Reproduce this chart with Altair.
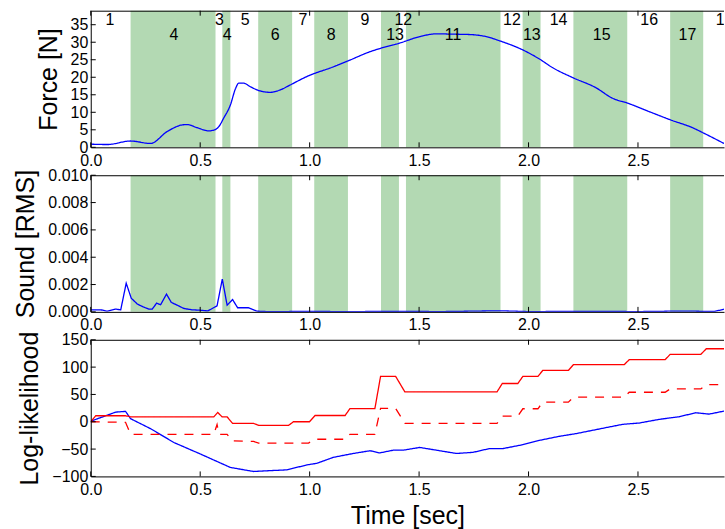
import altair as alt
import pandas as pd

# ---------------- data ----------------
XMAX = 2.893
x_ticks = [0.0, 0.5, 1.0, 1.5, 2.0, 2.5]

span_start = [0.182, 0.601, 0.765, 1.021, 1.326, 1.440, 1.973, 2.205, 2.647]
span_end = [0.570, 0.638, 0.920, 1.175, 1.408, 1.872, 2.055, 2.451, 2.798]

row1_t = [0.088, 0.588, 0.706, 0.969, 1.253, 1.428, 1.924, 2.137, 2.551, 2.896]
row1_lab = ["1", "3", "5", "7", "9", "12", "12", "14", "16", "18"]
row2_t = [0.380, 0.623, 0.843, 1.098, 1.390, 1.655, 2.015, 2.334, 2.726]
row2_lab = ["4", "4", "6", "8", "13", "11", "13", "15", "17"]

force_t = [0.0, 0.076, 0.182, 0.273, 0.349, 0.418, 0.44, 0.486, 0.539, 0.562, 0.585,
           0.607, 0.638, 0.661, 0.676, 0.699, 0.729, 0.774, 0.82, 0.866, 0.911, 0.987,
           1.109, 1.184, 1.276, 1.326, 1.408, 1.503, 1.579, 1.655, 1.73, 1.807, 1.868,
           1.974, 2.05, 2.111, 2.202, 2.308, 2.384, 2.453, 2.551, 2.65, 2.749, 2.802, 2.893]
force_v = [0.9, 0.8, 1.8, 1.1, 4.5, 6.4, 6.5, 5.6, 4.7, 4.9, 5.9,
           8.3, 12.1, 16.7, 18.3, 18.3, 17.3, 16.1, 15.7, 16.4, 17.8, 20.2,
           23.0, 24.9, 27.3, 28.3, 29.7, 31.6, 32.4, 32.3, 32.2, 31.6, 30.4,
           27.8, 25.2, 22.7, 19.9, 17.0, 14.0, 12.6, 10.2, 7.8, 5.6, 4.0, 1.1]

sound_t = [0.0, 0.046, 0.076, 0.114, 0.137, 0.162, 0.185, 0.213, 0.243, 0.266, 0.281,
           0.301, 0.319, 0.346, 0.368, 0.395, 0.425, 0.463, 0.501, 0.535, 0.577, 0.601,
           0.623, 0.648, 0.671, 0.721, 0.759, 0.805, 1.0, 1.2, 1.4, 1.6, 1.87, 2.0,
           2.3, 2.5, 2.7, 2.85, 2.893]
sound_v = [0.00015, 0.00015, 0.00005, 0.0002, 0.00015, 0.0021, 0.001, 0.00057, 0.00034,
           0.0002, 0.0002, 0.00064, 0.00052, 0.0013, 0.00069, 0.00049, 0.00025, 0.00015,
           0.00012, 0.00007, 0.00044, 0.0024, 0.00049, 0.0009, 0.0003, 0.0003, 0.00005,
           0.00002, 0.00003, 0.00002, 0.00004, 0.00002, 0.00008, 0.00002, 0.00004,
           0.00002, 0.00006, 0.00003, 0.0002]

red_t = [0.0, 0.023, 0.159, 0.182, 0.562, 0.58, 0.6, 0.623, 0.648, 0.744, 0.767, 0.904,
         0.926, 0.999, 1.025, 1.162, 1.184, 1.298, 1.324, 1.393, 1.435, 1.856, 1.880,
         1.951, 1.974, 2.043, 2.065, 2.182, 2.205, 2.437, 2.460, 2.624, 2.647, 2.787,
         2.812, 2.893]
red_v = [0, 11, 11, 9, 9, 17, 9, 9, -3, -3, -6.5, -6.5, 0, 0, 11.5, 11.5, 24, 24, 83,
         83, 54.7, 54.7, 70, 70, 83, 83, 94, 94, 104.5, 104.5, 113.6, 113.6, 123.3,
         123.3, 133.6, 133.6]

dash_t = [0.0, 0.159, 0.182, 0.562, 0.577, 0.586, 0.623, 0.645, 0.744, 0.767, 0.995,
          1.025, 1.162, 1.184, 1.298, 1.324, 1.393, 1.435, 1.856, 1.880, 1.951, 1.974,
          2.043, 2.065, 2.182, 2.205, 2.437, 2.460, 2.624, 2.647, 2.787, 2.812, 2.893]
dash_v = [0, -1, -23, -23, -5, -23, -23, -35, -36, -39, -39, -32, -32, -23, -23, 24.4,
          24.4, -3, -3, 10.4, 10.4, 23.8, 23.8, 36, 36, 45, 45, 54, 54, 60, 60, 68, 68]

blue_t = [0.0, 0.114, 0.159, 0.182, 0.273, 0.38, 0.501, 0.562, 0.638, 0.744, 0.805,
          0.896, 0.987, 1.033, 1.109, 1.2, 1.276, 1.32, 1.382, 1.427, 1.503, 1.579,
          1.670, 1.746, 1.822, 1.883, 1.974, 2.050, 2.141, 2.217, 2.338, 2.430, 2.506,
          2.597, 2.688, 2.764, 2.825, 2.893]
blue_v = [1, 17.7, 19, 5.6, -12.6, -38, -59, -70, -83.6, -91, -89.7, -88, -79, -76,
          -65, -58, -53, -57, -52, -52, -47, -52, -58, -56, -49, -49, -42, -34, -26.6,
          -21.7, -12, -4.7, -2.3, 4.4, 9.2, 16.5, 14, 19.5]

force_ticks = [0, 5, 10, 15, 20, 25, 30, 35]
sound_ticks = [0.0, 0.002, 0.004, 0.006, 0.008, 0.010]
ll_ticks = [-100, -50, 0, 50, 100, 150]

# ---------------- styling ----------------
W = 635
H = 137
FONT = "Liberation Sans"
GREEN = "#b3d9b3"
BLUE = "#0000ff"
RED = "#ff0000"
TICK = 5

xscale = alt.Scale(domain=[0, XMAX], nice=False, zero=False)


def xaxis(title):
    if title:
        return alt.Axis(values=x_ticks, format=".1f", labelPadding=5, labelFlush=False,
                        title=title, titlePadding=6, zindex=1)
    return alt.Axis(values=x_ticks, format=".1f", labelPadding=5, labelFlush=False,
                    title=None, zindex=1)


spans = pd.DataFrame({"start": span_start, "end": span_end})
xt = pd.DataFrame({"t": x_ticks})
one = pd.DataFrame({"a": [0]})


def panel(lines, ydom, yticks, yfmt, ytitle, xtitle=None, labels=False, shade=True):
    ax = xaxis(xtitle)
    ys = alt.Scale(domain=ydom, nice=False, zero=False)
    ya = alt.Axis(values=yticks, format=yfmt, labelPadding=3, labelFlush=False,
                  title=ytitle, titlePadding=9, zindex=1)
    layers = []
    if shade:
        layers.append(
            alt.Chart(spans).mark_rect(color=GREEN, opacity=1).encode(
                x=alt.X("start:Q", scale=xscale, axis=ax), x2="end:Q",
                y=alt.value(0), y2=alt.value(H))
        )
    for df, color, dash in lines:
        m = alt.Chart(df).mark_line(color=color, strokeWidth=1.3, clip=True,
                                    strokeDash=dash if dash else [1, 0],
                                    interpolate=df.attrs.get("interp", "linear"))
        layers.append(m.encode(x=alt.X("t:Q", scale=xscale, axis=ax),
                               y=alt.Y("v:Q", scale=ys, axis=ya)))
    if labels:
        for tt, lab, ypix in [(row1_t, row1_lab, 9.5), (row2_t, row2_lab, 24)]:
            ldf = pd.DataFrame({"t": tt, "lab": lab})
            layers.append(
                alt.Chart(ldf).mark_text(font=FONT, fontSize=16, color="black",
                                         clip=True, align="center",
                                         baseline="middle").encode(
                    x=alt.X("t:Q", scale=xscale, axis=ax), y=alt.value(ypix),
                    text="lab:N")
            )
    # inward ticks (bottom, top, left)
    layers.append(alt.Chart(xt).mark_rule(color="black", strokeWidth=1).encode(
        x=alt.X("t:Q", scale=xscale, axis=ax), y=alt.value(H - TICK), y2=alt.value(H)))
    layers.append(alt.Chart(xt).mark_rule(color="black", strokeWidth=1).encode(
        x=alt.X("t:Q", scale=xscale, axis=ax), y=alt.value(0), y2=alt.value(TICK)))
    yt = pd.DataFrame({"v": yticks})
    layers.append(alt.Chart(yt).mark_rule(color="black", strokeWidth=1).encode(
        y=alt.Y("v:Q", scale=ys, axis=ya), x=alt.value(0), x2=alt.value(TICK)))
    # top spine
    layers.append(alt.Chart(one).mark_rule(color="black", strokeWidth=1).encode(
        x=alt.value(0), x2=alt.value(W), y=alt.value(0.5)))
    return alt.layer(*layers).properties(width=W, height=H)


force_df = pd.DataFrame({"t": force_t, "v": force_v})
force_df.attrs["interp"] = "monotone"
sound_df = pd.DataFrame({"t": sound_t, "v": sound_v})
red_df = pd.DataFrame({"t": red_t, "v": red_v})
dash_df = pd.DataFrame({"t": dash_t, "v": dash_v})
blue_df = pd.DataFrame({"t": blue_t, "v": blue_v})

p1 = panel([(force_df, BLUE, None)], [0, 39], force_ticks, "d", "Force [N]", labels=True)
p2 = panel([(sound_df, BLUE, None)], [0, 0.010], sound_ticks, ".3f", "Sound [RMS]")
p3 = panel([(blue_df, BLUE, None), (red_df, RED, None), (dash_df, RED, [9, 8])],
           [-100, 150], ll_ticks, "d", "Log-likelihood", xtitle="Time [sec]", shade=False)

chart = alt.vconcat(p1, p2, p3, spacing=28, bounds="flush").properties(
    padding={"left": 13, "top": 9, "right": 0, "bottom": 0}
).configure_view(stroke=None).configure_axis(
    labelFont=FONT, labelFontSize=16, labelColor="black",
    titleFont=FONT, titleFontSize=25, titleFontWeight="normal", titleColor="black",
    domainColor="black", domainWidth=1, grid=False, ticks=False,
)

chart.save("out.html", embed_options={"renderer": "svg", "actions": False})
